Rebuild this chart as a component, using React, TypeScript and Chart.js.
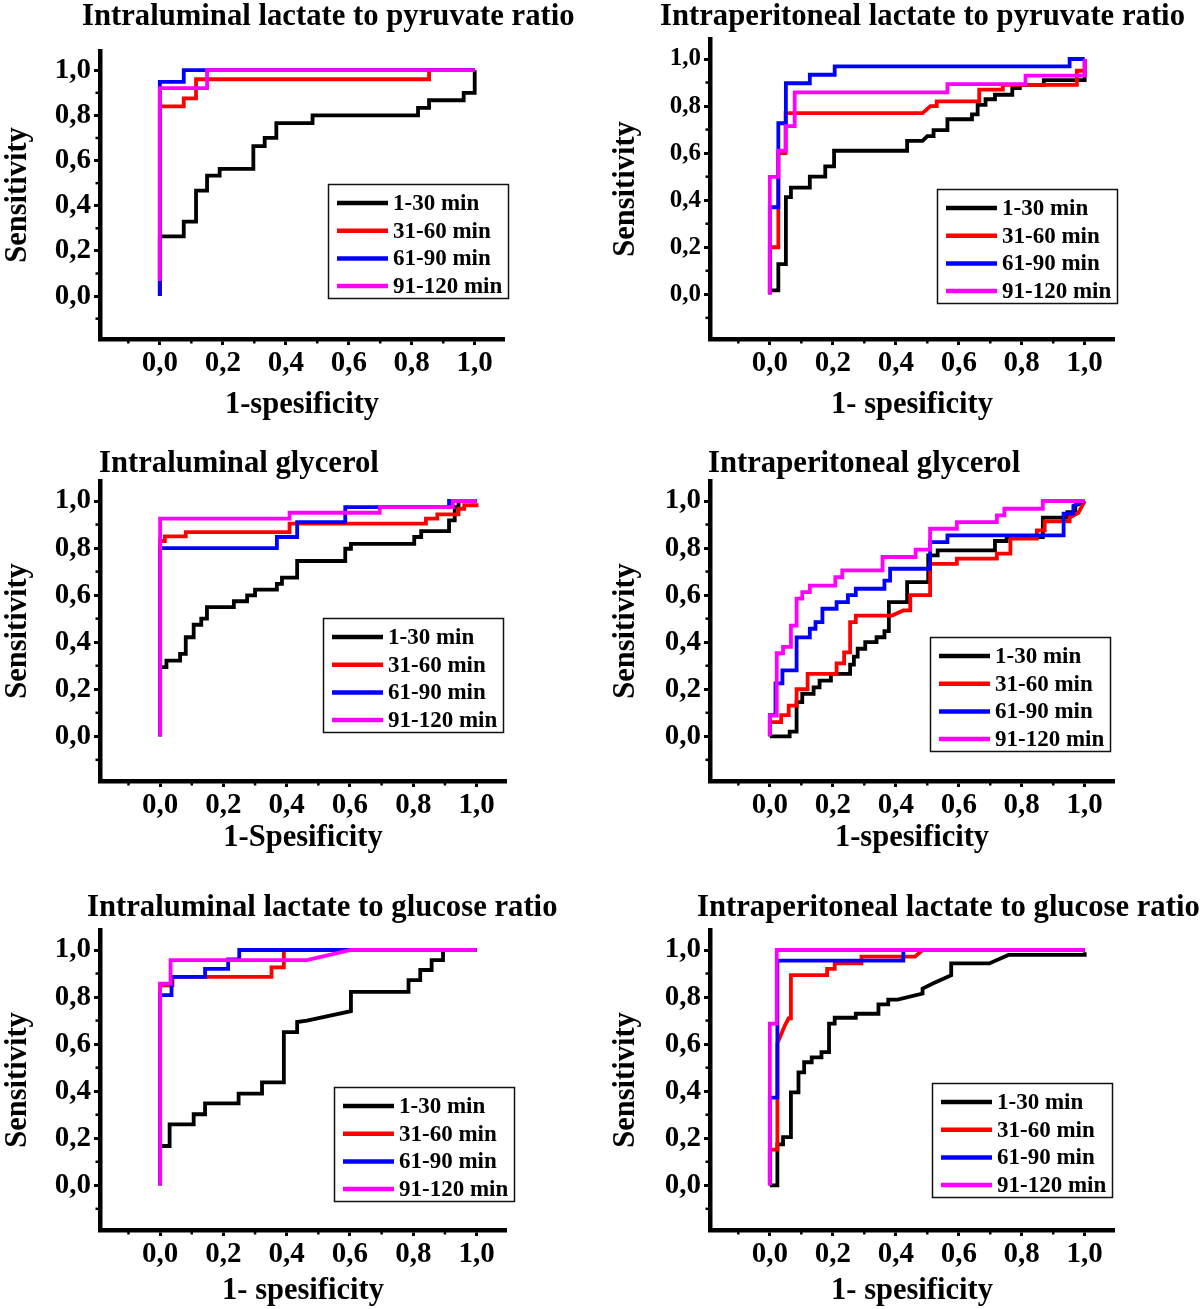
import { useEffect, useRef } from 'react';
import { Chart, registerables } from 'chart.js';

Chart.register(...registerables);

const FONT = "'Liberation Serif', 'Times New Roman', serif";

const SERIES_LABELS = ['1-30 min', '31-60 min', '61-90 min', '91-120 min'];
const SERIES_COLORS = ['#000000', '#ff0000', '#0000ff', '#ff00ff'];
const TICK_VALUES = [0, 0.2, 0.4, 0.6, 0.8, 1.0];
const TICK_LABELS = ['0,0', '0,2', '0,4', '0,6', '0,8', '1,0'];
const MINOR_TICKS = [-0.1, 0.1, 0.3, 0.5, 0.7, 0.9];
const X_MIN = -0.19, X_MAX = 1.093, Y_MIN = -0.19, Y_MAX = 1.085;

const PANEL_TITLES = [
  'Intraluminal lactate to pyruvate ratio',
  'Intraperitoneal lactate to pyruvate ratio',
  'Intraluminal glycerol',
  'Intraperitoneal glycerol',
  'Intraluminal lactate to glucose ratio',
  'Intraperitoneal lactate to glucose ratio',
];
const X_TITLES = ['1-spesificity', '1- spesificity', '1-Spesificity', '1-spesificity', '1- spesificity', '1- spesificity'];
const Y_TITLE = 'Sensitivity';

// ---- Panel 1: intraluminal lactate/pyruvate ----
const LUM_LP_1_30 = [[0,0],[0,0.264],[0.076,0.264],[0.076,0.33],[0.115,0.33],[0.115,0.467],[0.15,0.467],[0.15,0.533],[0.19,0.533],[0.19,0.563],[0.297,0.563],[0.297,0.664],[0.333,0.664],[0.333,0.70],[0.37,0.70],[0.37,0.766],[0.485,0.766],[0.485,0.80],[0.82,0.80],[0.82,0.833],[0.855,0.833],[0.855,0.867],[0.965,0.867],[0.965,0.90],[1,0.90],[1,1]];
const LUM_LP_31_60 = [[0,0],[0,0.84],[0.076,0.84],[0.076,0.875],[0.115,0.875],[0.115,0.96],[0.855,0.96],[0.855,1],[1,1]];
const LUM_LP_61_90 = [[0,0],[0,0.948],[0.076,0.948],[0.076,1],[1,1]];
const LUM_LP_91_120 = [[0,0.067],[0,0.921],[0.15,0.921],[0.15,1],[1,1]];

// ---- Panel 2: intraperitoneal lactate/pyruvate ----
const PER_LP_1_30 = [[0,0],[0,0.017],[0.027,0.017],[0.027,0.128],[0.051,0.128],[0.051,0.413],[0.067,0.413],[0.067,0.453],[0.127,0.453],[0.127,0.5],[0.176,0.5],[0.176,0.544],[0.204,0.544],[0.204,0.61],[0.436,0.61],[0.436,0.652],[0.485,0.652],[0.5,0.672],[0.52,0.672],[0.52,0.698],[0.564,0.698],[0.564,0.744],[0.642,0.744],[0.642,0.765],[0.66,0.765],[0.66,0.805],[0.685,0.805],[0.685,0.829],[0.715,0.829],[0.715,0.848],[0.77,0.848],[0.77,0.876],[0.794,0.876],[0.794,0.89],[0.87,0.89],[0.87,0.91],[1,0.91],[1,1]];
const PER_LP_31_60 = [[0,0],[0,0.2],[0.027,0.2],[0.027,0.6],[0.05,0.6],[0.05,0.77],[0.485,0.77],[0.51,0.80],[0.53,0.80],[0.53,0.82],[0.665,0.82],[0.665,0.87],[0.74,0.87],[0.74,0.89],[0.975,0.89],[0.975,0.95],[1,0.95],[1,1]];
const PER_LP_61_90 = [[0,0],[0,0.37],[0.027,0.37],[0.027,0.727],[0.051,0.727],[0.051,0.897],[0.127,0.897],[0.127,0.933],[0.206,0.933],[0.206,0.969],[0.952,0.969],[0.952,1],[1,1]];
const PER_LP_91_120 = [[0,0],[0,0.499],[0.027,0.499],[0.027,0.61],[0.051,0.61],[0.051,0.715],[0.079,0.715],[0.079,0.858],[0.564,0.858],[0.564,0.893],[0.812,0.893],[0.812,0.929],[1,0.929],[1,1]];

// ---- Panel 3: intraluminal glycerol ----
const LUM_GLY_1_30 = [[0,0],[0,0.294],[0.02,0.294],[0.02,0.322],[0.063,0.322],[0.063,0.35],[0.081,0.35],[0.081,0.421],[0.106,0.421],[0.106,0.474],[0.13,0.474],[0.13,0.5],[0.148,0.5],[0.148,0.549],[0.233,0.549],[0.233,0.574],[0.275,0.574],[0.275,0.599],[0.3,0.599],[0.3,0.623],[0.369,0.623],[0.369,0.648],[0.385,0.648],[0.385,0.674],[0.433,0.674],[0.433,0.745],[0.585,0.745],[0.585,0.797],[0.603,0.797],[0.603,0.818],[0.803,0.818],[0.803,0.847],[0.825,0.847],[0.825,0.872],[0.913,0.872],[0.913,0.918],[0.931,0.918],[0.931,0.974],[0.943,0.974],[0.943,1],[1,1]];
const LUM_GLY_31_60 = [[0,0],[0,0.83],[0.015,0.83],[0.015,0.85],[0.081,0.85],[0.081,0.868],[0.409,0.868],[0.409,0.904],[0.84,0.904],[0.84,0.925],[0.876,0.925],[0.876,0.943],[0.943,0.943],[0.943,0.967],[0.961,0.967],[0.961,0.982],[1,0.982],[1,0.99]];
const LUM_GLY_61_90 = [[0,0],[0,0.8],[0.369,0.8],[0.369,0.847],[0.433,0.847],[0.433,0.91],[0.585,0.91],[0.585,0.974],[0.913,0.974],[0.913,1],[1,1]];
const LUM_GLY_91_120 = [[0,0],[0,0.925],[0.409,0.925],[0.409,0.95],[0.694,0.95],[0.694,0.974],[0.925,0.974],[0.925,1],[1,1]];

// ---- Panel 4: intraperitoneal glycerol ----
const PER_GLY_1_30 = [[0,0],[0.063,0],[0.063,0.02],[0.085,0.02],[0.085,0.145],[0.103,0.145],[0.103,0.18],[0.139,0.18],[0.139,0.208],[0.158,0.208],[0.158,0.237],[0.194,0.237],[0.194,0.265],[0.255,0.265],[0.255,0.305],[0.267,0.305],[0.267,0.339],[0.279,0.339],[0.279,0.372],[0.303,0.372],[0.303,0.4],[0.339,0.4],[0.339,0.421],[0.364,0.421],[0.364,0.447],[0.378,0.447],[0.378,0.57],[0.436,0.57],[0.436,0.655],[0.503,0.655],[0.503,0.769],[0.533,0.769],[0.533,0.79],[0.715,0.79],[0.715,0.83],[0.752,0.83],[0.752,0.847],[0.867,0.847],[0.867,0.929],[0.945,0.929],[0.945,0.953],[0.97,0.953],[0.97,0.98],[1,1]];
const PER_GLY_31_60 = [[0,0],[0,0.06],[0.036,0.06],[0.036,0.09],[0.06,0.09],[0.06,0.13],[0.085,0.13],[0.085,0.2],[0.12,0.2],[0.12,0.265],[0.212,0.265],[0.212,0.31],[0.236,0.31],[0.236,0.357],[0.255,0.357],[0.255,0.485],[0.273,0.485],[0.273,0.513],[0.388,0.513],[0.424,0.535],[0.446,0.535],[0.446,0.6],[0.509,0.6],[0.509,0.733],[0.594,0.733],[0.594,0.755],[0.721,0.755],[0.721,0.776],[0.764,0.776],[0.764,0.84],[0.848,0.84],[0.848,0.875],[0.873,0.875],[0.873,0.913],[0.952,0.913],[0.952,0.929],[0.98,0.95],[1,1]];
const PER_GLY_61_90 = [[0,0],[0,0.09],[0.018,0.09],[0.018,0.225],[0.04,0.225],[0.04,0.28],[0.085,0.28],[0.085,0.42],[0.127,0.42],[0.127,0.457],[0.145,0.457],[0.145,0.485],[0.167,0.485],[0.167,0.542],[0.212,0.542],[0.212,0.57],[0.248,0.57],[0.248,0.6],[0.273,0.6],[0.273,0.627],[0.364,0.627],[0.364,0.662],[0.382,0.662],[0.382,0.712],[0.509,0.712],[0.509,0.825],[0.564,0.825],[0.564,0.854],[0.933,0.854],[0.933,0.946],[0.964,0.946],[0.964,0.98],[1,1]];
const PER_GLY_91_120 = [[0,0],[0,0.088],[0.022,0.088],[0.022,0.353],[0.042,0.353],[0.042,0.38],[0.067,0.38],[0.067,0.47],[0.085,0.47],[0.085,0.585],[0.103,0.585],[0.103,0.613],[0.127,0.613],[0.127,0.64],[0.208,0.64],[0.208,0.676],[0.23,0.676],[0.23,0.705],[0.358,0.705],[0.358,0.762],[0.463,0.762],[0.463,0.793],[0.509,0.793],[0.509,0.882],[0.594,0.882],[0.594,0.91],[0.721,0.91],[0.721,0.939],[0.745,0.939],[0.745,0.967],[0.867,0.967],[0.867,1],[1,1]];

// ---- Panel 5: intraluminal lactate/glucose ----
const LUM_LG_1_30 = [[0,0],[0,0.167],[0.03,0.167],[0.03,0.259],[0.106,0.259],[0.106,0.302],[0.142,0.302],[0.142,0.348],[0.248,0.348],[0.248,0.39],[0.322,0.39],[0.322,0.437],[0.391,0.437],[0.391,0.651],[0.433,0.651],[0.433,0.694],[0.464,0.70],[0.603,0.74],[0.603,0.822],[0.785,0.822],[0.785,0.872],[0.822,0.872],[0.822,0.915],[0.858,0.915],[0.858,0.957],[0.894,0.957],[0.894,1],[1,1]];
const LUM_LG_31_60 = [[0,0],[0,0.85],[0.039,0.85],[0.039,0.886],[0.352,0.886],[0.352,0.926],[0.391,0.926],[0.391,1],[1,1]];
const LUM_LG_61_90 = [[0,0],[0,0.808],[0.036,0.808],[0.036,0.886],[0.142,0.886],[0.142,0.92],[0.215,0.92],[0.215,0.96],[0.25,0.96],[0.25,1],[1,1]];
const LUM_LG_91_120 = [[0,0],[0,0.857],[0.033,0.857],[0.033,0.957],[0.464,0.957],[0.603,1],[1,1]];

// ---- Panel 6: intraperitoneal lactate/glucose ----
const PER_LG_1_30 = [[0,0],[0.024,0],[0.024,0.174],[0.042,0.174],[0.042,0.205],[0.067,0.205],[0.067,0.395],[0.091,0.395],[0.091,0.48],[0.109,0.48],[0.109,0.523],[0.133,0.523],[0.133,0.544],[0.164,0.544],[0.164,0.566],[0.188,0.566],[0.188,0.687],[0.206,0.687],[0.206,0.712],[0.273,0.712],[0.273,0.729],[0.345,0.729],[0.345,0.769],[0.376,0.769],[0.376,0.789],[0.406,0.789],[0.485,0.815],[0.485,0.836],[0.521,0.86],[0.576,0.893],[0.576,0.943],[0.697,0.943],[0.758,0.979],[1,0.979],[1,0.99]];
const PER_LG_31_60 = [[0,0],[0,0.152],[0.024,0.152],[0.024,0.604],[0.048,0.68],[0.06,0.71],[0.067,0.71],[0.067,0.893],[0.182,0.893],[0.182,0.92],[0.206,0.92],[0.206,0.943],[0.291,0.943],[0.291,0.972],[0.461,0.972],[0.485,1],[1,1]];
const PER_LG_61_90 = [[0,0],[0,0.373],[0.024,0.373],[0.024,0.955],[0.424,0.955],[0.424,1],[1,1]];
const PER_LG_91_120 = [[0,0],[0,0.687],[0.022,0.687],[0.022,1],[1,1]];

const PANEL_SERIES = [
  [LUM_LP_1_30, LUM_LP_31_60, LUM_LP_61_90, LUM_LP_91_120],
  [PER_LP_1_30, PER_LP_31_60, PER_LP_61_90, PER_LP_91_120],
  [LUM_GLY_1_30, LUM_GLY_31_60, LUM_GLY_61_90, LUM_GLY_91_120],
  [PER_GLY_1_30, PER_GLY_31_60, PER_GLY_61_90, PER_GLY_91_120],
  [LUM_LG_1_30, LUM_LG_31_60, LUM_LG_61_90, LUM_LG_91_120],
  [PER_LG_1_30, PER_LG_31_60, PER_LG_61_90, PER_LG_91_120],
];

// layout (page pixel coordinates)
const LAYOUT = [
  { left: 0, top: 0, w: 600, h: 437, L: 100, R: 504, T: 51, B: 339, titleX: 82, titleBase: 25, lgX: 328, lgY: 184, yTitleX: 18, xTitleY: 405, yTick: 29 },
  { left: 600, top: 0, w: 600, h: 437, L: 710, R: 1114, T: 39, B: 339, titleX: 660, titleBase: 25, lgX: 937, lgY: 189, yTitleX: 626, xTitleY: 405, yTick: 25 },
  { left: 0, top: 437, w: 600, h: 443, L: 100, R: 506, T: 481, B: 781, titleX: 99, titleBase: 472, lgX: 323, lgY: 618, yTitleX: 18, xTitleY: 838, yTick: 29 },
  { left: 600, top: 437, w: 600, h: 443, L: 710, R: 1114, T: 481, B: 781, titleX: 708, titleBase: 472, lgX: 930, lgY: 637, yTitleX: 626, xTitleY: 838, yTick: 29 },
  { left: 0, top: 880, w: 600, h: 429, L: 100, R: 506, T: 930, B: 1230, titleX: 87, titleBase: 916, lgX: 334, lgY: 1087, yTitleX: 18, xTitleY: 1291, yTick: 29 },
  { left: 600, top: 880, w: 600, h: 429, L: 710, R: 1114, T: 930, B: 1230, titleX: 697, titleBase: 916, lgX: 932, lgY: 1083, yTitleX: 626, xTitleY: 1291, yTick: 29 },
];

const TITLE_SIZE = 30.7;
const AXIS_TITLE_SIZE = 30.5;
const LEGEND_SIZE = 23;
const LG_W = 180, LG_H = 114, LG_ROW = 27.7;

function tickLabel(value: number) {
  const i = TICK_VALUES.findIndex((t) => Math.abs(t - value) < 1e-6);
  return i >= 0 ? TICK_LABELS[i] : '';
}

function makeDecor(idx: number) {
  const c = LAYOUT[idx];
  return {
    id: 'panelDecor',
    afterDraw(chart: any) {
      const ctx = chart.ctx as CanvasRenderingContext2D;
      const xs = chart.scales.x;
      const ys = chart.scales.y;
      const area = chart.chartArea;
      ctx.save();
      // minor ticks
      ctx.strokeStyle = '#000';
      ctx.lineWidth = 2.5;
      MINOR_TICKS.forEach((v) => {
        const px = xs.getPixelForValue(v);
        if (px > area.left + 3 && px < area.right) {
          ctx.beginPath();
          ctx.moveTo(px, area.bottom);
          ctx.lineTo(px, area.bottom + 4.5);
          ctx.stroke();
        }
        const py = ys.getPixelForValue(v);
        if (py < area.bottom - 3 && py > area.top) {
          ctx.beginPath();
          ctx.moveTo(area.left - 4.5, py);
          ctx.lineTo(area.left, py);
          ctx.stroke();
        }
      });
      // panel title
      ctx.fillStyle = '#000';
      ctx.font = `bold ${TITLE_SIZE}px ${FONT}`;
      ctx.textAlign = 'left';
      ctx.textBaseline = 'alphabetic';
      ctx.fillText(PANEL_TITLES[idx], c.titleX - c.left, c.titleBase - c.top);
      // legend
      const bx = c.lgX - c.left;
      const by = c.lgY - c.top;
      ctx.fillStyle = '#fff';
      ctx.fillRect(bx, by, LG_W, LG_H);
      ctx.strokeStyle = '#111';
      ctx.lineWidth = 1.5;
      ctx.strokeRect(bx + 0.5, by + 0.5, LG_W, LG_H);
      ctx.font = `bold ${LEGEND_SIZE}px ${FONT}`;
      ctx.textBaseline = 'middle';
      SERIES_LABELS.forEach((lab, i) => {
        const y = by + 19 + LG_ROW * i;
        ctx.strokeStyle = SERIES_COLORS[i];
        ctx.lineWidth = 4.5;
        ctx.beginPath();
        ctx.moveTo(bx + 9, y);
        ctx.lineTo(bx + 60, y);
        ctx.stroke();
        ctx.fillStyle = '#000';
        ctx.fillText(lab, bx + 65, y + 1);
      });
      ctx.restore();
    },
  };
}

function Panel({ idx }: { idx: number }) {
  const ref = useRef<HTMLCanvasElement>(null);
  const c = LAYOUT[idx];
  useEffect(() => {
    if (!ref.current) return;
    const lineHalf = AXIS_TITLE_SIZE / 2;
    const gridOpts = {
      display: true,
      drawOnChartArea: false,
      drawTicks: true,
      tickLength: 6,
      tickWidth: 3,
      tickColor: '#000',
      color: '#000',
    };
    const borderOpts = { display: true, width: 4.5, color: '#000' };
    const chart = new Chart(ref.current, {
      type: 'line',
      data: {
        datasets: PANEL_SERIES[idx].map((pts, i) => ({
          label: SERIES_LABELS[i],
          data: pts.map(([x, y]) => ({ x, y })),
          borderColor: SERIES_COLORS[i],
          backgroundColor: SERIES_COLORS[i],
          borderWidth: 3.8,
          pointRadius: 0,
          pointHoverRadius: 0,
          fill: false,
          tension: 0,
          borderJoinStyle: 'miter',
          borderCapStyle: 'butt',
          order: 3 - i,
        })),
      },
      options: {
        responsive: false,
        animation: false,
        devicePixelRatio: 1,
        events: [],
        layout: {
          padding: { left: 0, bottom: 0, top: c.T - c.top, right: c.left + c.w - c.R },
        },
        plugins: {
          legend: { display: false },
          tooltip: { enabled: false },
          title: { display: false },
        },
        scales: {
          x: {
            type: 'linear',
            min: X_MIN,
            max: X_MAX,
            afterFit: (s: any) => { s.height = c.top + c.h - c.B; },
            afterBuildTicks: (s: any) => { s.ticks = TICK_VALUES.map((v) => ({ value: v })); },
            ticks: {
              callback: (v: any) => tickLabel(Number(v)),
              font: { family: FONT, size: 29, weight: 'bold' },
              color: '#000',
              padding: 1,
              maxRotation: 0,
              autoSkip: false,
            },
            grid: gridOpts,
            border: borderOpts,
            title: {
              display: true,
              text: X_TITLES[idx],
              color: '#000',
              font: { family: FONT, size: AXIS_TITLE_SIZE, weight: 'bold', lineHeight: 1 },
              padding: { top: 0, bottom: Math.max(0, c.top + c.h - c.xTitleY - lineHalf) },
            },
          },
          y: {
            type: 'linear',
            min: Y_MIN,
            max: Y_MAX,
            afterFit: (s: any) => { s.width = c.L - c.left; },
            afterBuildTicks: (s: any) => { s.ticks = TICK_VALUES.map((v) => ({ value: v })); },
            ticks: {
              callback: (v: any) => tickLabel(Number(v)),
              font: { family: FONT, size: c.yTick, weight: 'bold' },
              color: '#000',
              padding: 3,
              autoSkip: false,
            },
            grid: gridOpts,
            border: borderOpts,
            title: {
              display: true,
              text: Y_TITLE,
              color: '#000',
              font: { family: FONT, size: AXIS_TITLE_SIZE, weight: 'bold', lineHeight: 1 },
              padding: { top: Math.max(0, c.yTitleX - c.left - lineHalf), bottom: 0 },
            },
          },
        },
      } as any,
      plugins: [makeDecor(idx)],
    });
    return () => chart.destroy();
  }, [idx]);
  return (
    <canvas
      ref={ref}
      width={c.w}
      height={c.h}
      style={{ position: 'absolute', left: c.left, top: c.top, width: c.w, height: c.h }}
    />
  );
}

export default function App() {
  return (
    <div style={{ position: 'absolute', left: 0, top: 0, width: 1200, height: 1309, background: '#fff', overflow: 'hidden' }}>
      {LAYOUT.map((_, i) => (
        <Panel key={i} idx={i} />
      ))}
    </div>
  );
}
